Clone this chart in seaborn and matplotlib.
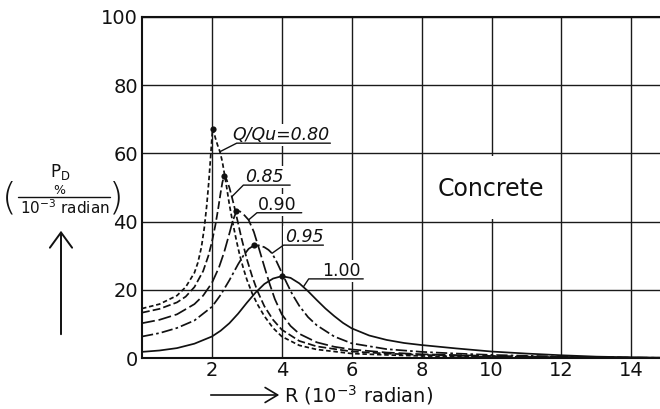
import matplotlib
matplotlib.use("Agg")
import matplotlib.pyplot as plt
from matplotlib.patches import FancyArrowPatch, Rectangle
import numpy as np
import pandas as pd
import seaborn as sns

# ---- data: rotation-capacity density curves for concrete ----
ratios = ["0.80", "0.85", "0.90", "0.95", "1.00"]

r_080 = [0, 0.5, 1.0, 1.25, 1.5, 1.6, 1.7, 1.78, 1.85, 1.91, 1.96, 2.0, 2.02, 2.05,
         2.1, 2.16, 2.23, 2.3, 2.4, 2.5, 2.6, 2.7, 2.8, 2.9, 3.0, 3.15, 3.3, 3.5,
         3.75, 4.0, 4.5, 5.0, 6.0, 7.0, 8.0, 10.0, 12.0, 14.0, 14.82]
p_080 = [14.5, 15.8, 18.3, 20.8, 25.0, 28.0, 32.5, 38.0, 44.5, 51.5, 58.5, 64.5, 67.2, 66.5,
         64.5, 62.5, 60.5, 57.5, 51.5, 45.0, 39.5, 34.5, 30.0, 26.3, 23.0, 19.0, 15.8, 12.3,
         8.8, 6.3, 3.7, 2.5, 1.3, 0.9, 0.6, 0.3, 0.15, 0.05, 0.03]

r_085 = [0, 0.5, 1.0, 1.25, 1.5, 1.75, 1.9, 2.0, 2.1, 2.18, 2.25, 2.3, 2.35, 2.42,
         2.5, 2.57, 2.65, 2.75, 2.85, 3.0, 3.15, 3.3, 3.5, 3.75, 4.0, 4.5, 5.0,
         6.0, 7.0, 8.0, 10.0, 12.0, 14.0, 14.82]
p_085 = [13.3, 14.4, 16.3, 18.0, 20.8, 25.5, 30.0, 34.0, 39.0, 43.8, 48.5, 51.5, 53.4, 52.3,
         50.0, 47.3, 44.0, 39.5, 35.0, 29.0, 24.0, 19.7, 15.2, 11.2, 8.3, 5.0, 3.4,
         1.9, 1.3, 0.9, 0.45, 0.2, 0.06, 0.03]

r_090 = [0, 0.5, 1.0, 1.5, 1.75, 2.0, 2.2, 2.35, 2.5, 2.6, 2.7, 2.8, 2.9, 3.05,
         3.2, 3.35, 3.5, 3.65, 3.8, 4.0, 4.25, 4.5, 5.0, 5.5, 6.0, 7.0, 8.0, 10.0,
         12.0, 14.0, 14.82]
p_090 = [10.2, 11.2, 12.8, 15.8, 18.3, 22.0, 26.5, 31.0, 36.5, 40.3, 43.0, 43.0, 42.2, 40.5,
         37.0, 32.0, 26.8, 21.8, 17.3, 12.8, 9.4, 7.1, 4.6, 3.3, 2.5, 1.6, 1.1, 0.6,
         0.3, 0.1, 0.05]

r_095 = [0, 0.5, 1.0, 1.5, 2.0, 2.25, 2.5, 2.75, 2.9, 3.05, 3.2, 3.35, 3.5, 3.62,
         3.72, 3.85, 4.0, 4.15, 4.3, 4.5, 4.75, 5.0, 5.5, 6.0, 7.0, 8.0, 9.0, 10.0,
         12.0, 14.0, 14.82]
p_095 = [6.3, 7.3, 8.8, 11.0, 15.0, 18.5, 22.8, 27.5, 30.0, 32.0, 33.0, 33.0, 32.5, 31.7,
         30.7, 28.3, 25.0, 21.8, 18.7, 15.3, 12.0, 9.6, 6.3, 4.3, 2.6, 1.8, 1.3, 0.9,
         0.4, 0.1, 0.05]

r_100 = [0, 0.5, 1.0, 1.5, 2.0, 2.25, 2.5, 2.75, 3.0, 3.25, 3.5, 3.75, 4.0, 4.25,
         4.5, 4.75, 5.0, 5.25, 5.5, 5.75, 6.0, 6.5, 7.0, 7.5, 8.0, 9.0, 10.0, 11.0,
         12.0, 13.0, 14.0, 14.82]
p_100 = [1.8, 2.2, 2.9, 4.2, 6.3, 8.0, 10.2, 13.0, 16.2, 19.2, 21.7, 23.3, 24.0, 23.5,
         21.9, 19.6, 17.0, 14.5, 12.3, 10.3, 8.7, 6.6, 5.3, 4.4, 3.8, 2.8, 1.9, 1.3,
         0.8, 0.4, 0.2, 0.1]

# peak of each curve (marked with a dot)
peak_r = [2.02, 2.35, 2.7, 3.2, 4.0]
peak_p = [67.2, 53.4, 43, 33, 24]

# curve labels and the curve point each leader line starts from
label_text = ["Q/Qu=0.80", "0.85", "0.90", "0.95", "1.00"]
leader_r = [2.23, 2.57, 3.05, 3.72, 4.62]
leader_p = [60.5, 47.3, 40.5, 30.7, 20.9]

x_ticks = [2, 4, 6, 8, 10, 12, 14]
y_ticks = [0, 20, 40, 60, 80, 100]

# ---- long-form table ----
curves = {"0.80": (r_080, p_080), "0.85": (r_085, p_085), "0.90": (r_090, p_090),
          "0.95": (r_095, p_095), "1.00": (r_100, p_100)}
df = pd.concat([pd.DataFrame({"R": r, "P": p, "Q/Qu": k}) for k, (r, p) in curves.items()],
               ignore_index=True)

sns.set_theme(style="white")
plt.rcParams["font.family"] = ["DejaVu Sans"]

W, H = 660, 409
fig = plt.figure(figsize=(W / 100, H / 100), dpi=100)
fig.patch.set_facecolor("white")


def fp(x, y):
    """pixel position (from top-left) to figure fraction"""
    return x / W, 1 - y / H


ax_left, ax_top, ax_bottom = 142, 17, 358
ax = fig.add_axes([ax_left / W, 1 - ax_bottom / H, (W - ax_left) / W, (ax_bottom - ax_top) / H])
ax.set_facecolor("white")

dash_styles = {"0.80": (2.6, 1.6), "0.85": (4.5, 1.8), "0.90": (7.5, 2.2),
               "0.95": (6.5, 1.8, 1.5, 1.8), "1.00": ""}

sns.lineplot(data=df, x="R", y="P", hue="Q/Qu", style="Q/Qu", hue_order=ratios,
             style_order=ratios, palette=["#111111"] * 5, dashes=dash_styles,
             estimator=None, sort=False, legend=False, linewidth=1.25, ax=ax, zorder=3)
sns.scatterplot(x=peak_r, y=peak_p, color="#111111", s=20, linewidth=0, ax=ax, zorder=4)

ax.set_xlim(0, (W - ax_left) / 34.95)
ax.set_ylim(0, 100)
ax.set_xticks(x_ticks)
ax.set_yticks(y_ticks)
ax.set_xticklabels([str(v) for v in x_ticks])
ax.set_yticklabels([str(v) for v in y_ticks])
ax.tick_params(axis="both", length=0, labelsize=14, colors="#111111")
ax.tick_params(axis="x", pad=2)
ax.tick_params(axis="y", pad=3)
ax.set_xlabel("")
ax.set_ylabel("")
ax.grid(True, color="#1a1a1a", linewidth=1.0, zorder=0)
ax.set_axisbelow(True)
for side in ["left", "bottom", "top"]:
    ax.spines[side].set_color("#111111")
    ax.spines[side].set_linewidth(1.5)
ax.spines["right"].set_visible(False)

# "Concrete" caption sits in a blank cell
ax.add_patch(Rectangle((9.85, 40.7), 0.3, 18.6, facecolor="white", edgecolor="none", zorder=1))
ax.text(9.97, 49.5, "Concrete", fontsize=17, ha="center", va="center", color="#111111", zorder=5)

# curve labels with underline and leader
label_left = [2.58, 2.95, 3.32, 4.09, 5.15]
under_y = [63.0, 50.7, 42.6, 33.1, 23.2]
under_x0 = [2.71, 2.9, 3.29, 4.05, 4.77]
under_x1 = [5.39, 4.24, 4.57, 5.19, 6.33]
italic = [True, True, False, True, False]
for i, txt in enumerate(label_text):
    ax.text(label_left[i], under_y[i] + 0.9, txt, fontsize=12.5, ha="left", va="baseline",
            style="italic" if italic[i] else "normal", color="#111111", zorder=5,
            bbox=dict(facecolor="white", edgecolor="none", pad=1.5))
    ax.plot([leader_r[i], under_x0[i], under_x1[i]], [leader_p[i], under_y[i], under_y[i]],
            color="#111111", linewidth=1.0, zorder=6)

# y-axis label: P_D (% / 10^-3 radian) with upward arrow
fig.text(*fp(60, 172), r"P$_{\mathrm{D}}$", fontsize=12, ha="center", va="center", color="#111111")
fig.text(*fp(59, 190), "%", fontsize=9, ha="center", va="center", color="#111111")
fig.add_artist(plt.Line2D([18 / W, 110 / W], [1 - 197 / H, 1 - 197 / H],
                          color="#111111", linewidth=1.0))
fig.text(*fp(65, 208), r"10$^{-3}$ radian", fontsize=11, ha="center", va="center", color="#111111")
fig.text(*fp(9, 198), "(", fontsize=27, ha="center", va="center", color="#111111",
         fontweight="light")
fig.text(*fp(116, 198), ")", fontsize=27, ha="center", va="center", color="#111111",
         fontweight="light")
fig.add_artist(FancyArrowPatch(fp(61, 337), fp(61, 228), transform=fig.transFigure,
                               arrowstyle="->,head_length=0.55,head_width=0.4",
                               mutation_scale=20, color="#111111", linewidth=1.4))

# x-axis label: -> R (10^-3 radian)
fig.add_artist(FancyArrowPatch(fp(208, 395), fp(282, 395), transform=fig.transFigure,
                               arrowstyle="->,head_length=0.5,head_width=0.3",
                               mutation_scale=18, color="#111111", linewidth=1.2))
fig.text(*fp(284, 395), r"R (10$^{-3}$ radian)", fontsize=14, ha="left", va="center",
         color="#111111")

fig.savefig("out.png", dpi=100, facecolor="white")
